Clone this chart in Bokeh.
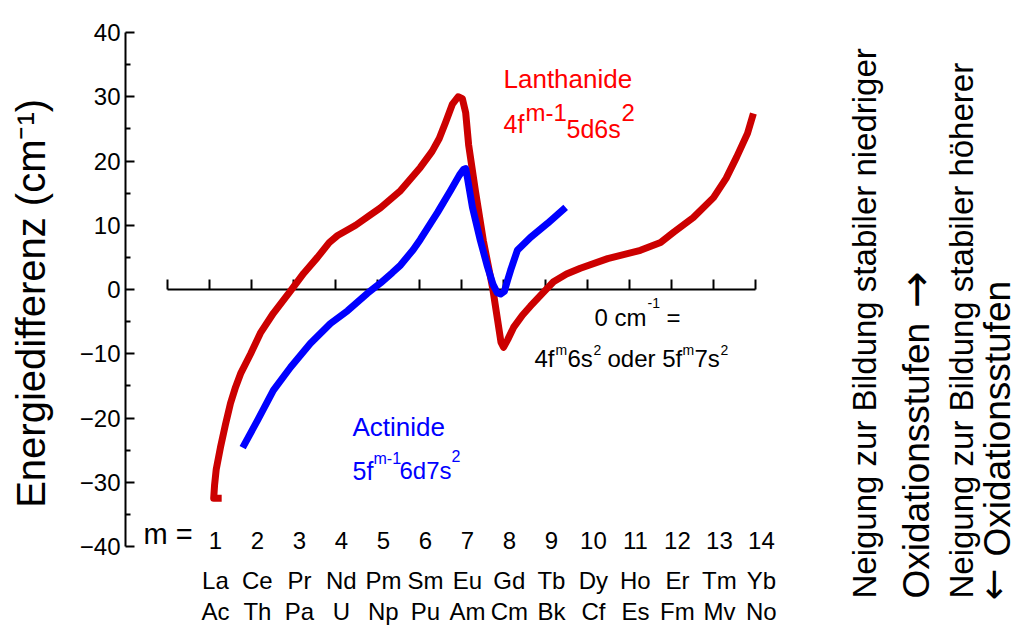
import math
from bokeh.plotting import figure
from bokeh.models import Range1d, FixedTicker
from bokeh.core.properties import value
from bokeh.embed import file_html
from bokeh.resources import INLINE

FONT = "Liberation Sans"

# ---------------- data ----------------
y_ticks = [-40, -30, -20, -10, 0, 10, 20, 30, 40]
y_minor = [-35, -25, -15, -5, 5, 15, 25, 35]
m_values = [1, 2, 3, 4, 5, 6, 7, 8, 9, 10, 11, 12, 13, 14]
zero_axis_ticks = [0, 1, 2, 3, 4, 5, 6, 7, 8, 9, 10, 11, 12, 13, 14]
lanthanides = ["La", "Ce", "Pr", "Nd", "Pm", "Sm", "Eu", "Gd", "Tb", "Dy", "Ho", "Er", "Tm", "Yb"]
actinides = ["Ac", "Th", "Pa", "U", "Np", "Pu", "Am", "Cm", "Bk", "Cf", "Es", "Fm", "Mv", "No"]

# Lanthanide curve (4f^(m-1)5d6s^2), energy difference vs m
ln_x = [1.29, 1.10, 1.12, 1.16, 1.26, 1.38, 1.50, 1.62, 1.74, 1.98, 2.21, 2.52, 2.93, 3.24,
        3.57, 3.85, 4.05, 4.24, 4.48, 4.83, 5.07, 5.55, 6.02, 6.30, 6.47, 6.62, 6.78, 6.92,
        7.02, 7.10, 7.17, 7.33, 7.52, 7.74, 7.86, 7.94, 8.00, 8.10, 8.24, 8.45, 8.64, 9.00,
        9.19, 9.50, 9.83, 10.48, 11.26, 11.74, 12.05, 12.52, 13.00, 13.30, 13.55, 13.81, 13.95]
ln_y = [-32.5, -32.5, -30.5, -28.0, -24.6, -21.0, -17.7, -15.2, -13.1, -10.0, -6.8, -3.7, -0.2, 2.5,
        5.0, 7.3, 8.4, 9.1, 10.0, 11.6, 12.7, 15.4, 19.0, 21.5, 23.5, 26.0, 28.8, 30.0,
        29.7, 27.5, 22.5, 15.4, 7.6, 0.3, -4.8, -8.2, -9.0, -7.8, -5.9, -4.0, -2.6, -0.1,
        1.2, 2.4, 3.3, 4.8, 6.1, 7.3, 8.9, 11.2, 14.3, 17.3, 20.6, 24.3, 27.4]

# Actinide curve (5f^(m-1)6d7s^2)
an_x = [1.79, 2.14, 2.52, 2.93, 3.40, 3.88, 4.29, 4.76, 5.07, 5.35, 5.55, 5.85, 6.02, 6.43,
        6.74, 6.95, 7.05, 7.10, 7.14, 7.26, 7.45, 7.62, 7.75, 7.85, 7.93, 8.02, 8.10, 8.17,
        8.33, 8.64, 9.05, 9.48]
an_y = [-24.6, -20.4, -15.7, -12.1, -8.4, -5.3, -3.3, -0.6, 1.0, 2.6, 3.8, 6.2, 7.8, 12.0,
        15.4, 17.8, 18.7, 18.8, 17.4, 12.8, 7.6, 3.5, 0.8, -0.5, -0.7, -0.3, 1.5, 3.0,
        6.1, 8.1, 10.3, 12.8]

# ---------------- layout helpers (picture pixel -> data) ----------------
PX_PER_M = 42.0
PX_PER_UNIT = 6.425
W, H = 1019, 628
LEFT = 125
BASE_SHIFT = 0.4  # empirical baseline correction (fraction of font size)


def X(px):
    return (px - 167) / PX_PER_M


def Y(py):
    return (289 - py) / PX_PER_UNIT


p = figure(width=W, height=H, output_backend="svg", toolbar_location=None,
           x_range=Range1d(X(LEFT), X(W)), y_range=Range1d(Y(H), Y(0)),
           x_axis_type=None, min_border_left=LEFT, min_border_right=0,
           min_border_top=0, min_border_bottom=0)
p.outline_line_color = None
p.background_fill_color = "white"
p.border_fill_color = "white"
p.grid.visible = False

ax = p.yaxis[0]
ax.ticker = FixedTicker(ticks=y_ticks, minor_ticks=y_minor)
ax.bounds = (y_ticks[0], y_ticks[-1])
ax.axis_line_width = 2
ax.major_tick_line_width = 2
ax.minor_tick_line_width = 2
ax.major_tick_in = 9
ax.major_tick_out = 0
ax.minor_tick_in = 5
ax.minor_tick_out = 0
ax.major_label_text_font = FONT
ax.major_label_text_font_size = "24px"
ax.major_label_text_color = "black"
ax.major_label_standoff = 5
ax.axis_label = "\u00a0\u00a0Energiedifferenz (cm\u207b\u00b9)"
ax.axis_label_text_font = FONT
ax.axis_label_text_font_size = "40px"
ax.axis_label_text_font_style = "normal"
ax.axis_label_text_color = "black"
ax.axis_label_standoff = 24

# zero line with upward ticks
p.line(x=[zero_axis_ticks[0], zero_axis_ticks[-1]], y=[0, 0], line_color="black", line_width=2)
p.segment(x0=zero_axis_ticks, y0=[0] * len(zero_axis_ticks), x1=zero_axis_ticks,
          y1=[10 / PX_PER_UNIT] * len(zero_axis_ticks), line_color="black", line_width=2)

# curves
p.line(ln_x, ln_y, line_color="#CC0000", line_width=7, line_join="round", line_cap="butt")
p.line(an_x, an_y, line_color="#0000FF", line_width=7, line_join="round", line_cap="butt")


def txt(px, py, s, size, color="black", angle=0.0, font=FONT):
    """px, py: picture position of the text start on its baseline."""
    shift = BASE_SHIFT * size
    if angle:
        px = px - shift
    else:
        py = py - shift
    p.text(x=[X(px)], y=[Y(py)], text=[s], text_font=value(font), text_font_size=f"{size}px",
           text_color=color, text_align="left", text_baseline="alphabetic", angle=angle)


def row(py, labels, size):
    p.text(x=[m + 0.14 for m in m_values], y=[Y(py - BASE_SHIFT * size)] * len(labels),
           text=labels, text_font=value(FONT), text_font_size=f"{size}px",
           text_color="black", text_align="center", text_baseline="alphabetic")


# bottom rows
row(550, [str(m) for m in m_values], 24)
row(590, lanthanides, 24)
row(621, actinides, 24)
txt(143, 545, "m =", 29)

# Lanthanide label
RED = "#FF0000"
txt(503, 89, "Lanthanide", 26, RED)
txt(503, 133, "4f", 25, RED)
txt(525, 122, "m-1", 24, RED)
txt(566, 138, "5d6s", 25, RED)
txt(621, 122, "2", 24, RED)

# Actinide label
BLUE = "#0000FF"
txt(352, 437, "Actinide", 26, BLUE)
txt(352, 480, "5f", 25, BLUE)
txt(373, 464, "m-1", 16, BLUE)
txt(399, 480, "6d7s", 24, BLUE)
txt(451, 462, "2", 16, BLUE)

# reference level annotation
txt(594, 327, "0 cm", 24)
txt(647, 308, "-1", 14)
txt(666, 327, "=", 24)
txt(534, 368, "4f", 24)
txt(555, 355, "m", 14)
txt(567, 368, "6s", 24)
txt(593, 355, "2", 14)
txt(607, 368, "oder 5f", 24)
txt(682, 355, "m", 14)
txt(694, 368, "7s", 24)
txt(720, 355, "2", 14)

# right-hand rotated notes (x = baseline position)
rot = math.pi / 2
txt(877, 598, "Neigung zur Bildung stabiler niedriger", 33, angle=rot)
txt(931, 598, "Oxidationsstufen", 37, angle=rot)
txt(933, 308, "\u2192", 44, angle=rot, font="DejaVu Sans")
txt(974, 598, "Neigung zur Bildung stabiler h\u00f6herer", 33, angle=rot)
txt(1008, 600, "\u2190", 38, angle=rot, font="DejaVu Sans")
txt(1012, 556, "Oxidationsstufen", 37, angle=rot)

open("out.html", "w").write(file_html(p, INLINE))
